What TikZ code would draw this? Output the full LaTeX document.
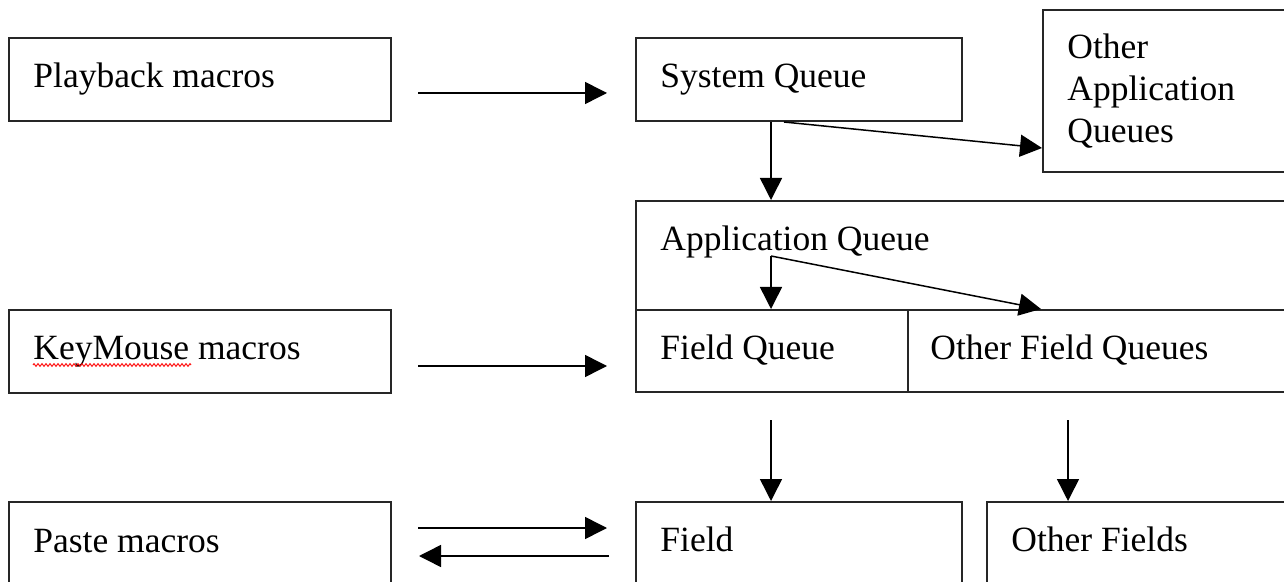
\documentclass[tikz,border=0pt]{standalone}
\usepackage{fontspec}
\setmainfont{Liberation Serif}
\usetikzlibrary{arrows.meta,fit,decorations.pathmorphing}
\begin{document}
\begin{tikzpicture}[x=0.5pt,y=-0.5pt,
  box/.style={draw=black!85, line width=1pt, inner sep=0pt},
  txt/.style={anchor=base west, inner sep=0pt, font=\fontsize{17.75}{20.9}\selectfont},
  arr/.style={line width=0.75pt, -{Triangle[length=11pt,width=11pt]}},
  squiggle/.style={red, line width=0.45pt, decorate,
    decoration={zigzag, amplitude=0.7pt, segment length=2pt}},
]
\useasboundingbox (0,0) rectangle (1284,582);
\clip (0,0) rectangle (1284,582);

% boxes (those on the right and bottom run off the page)
\node[box, fit={(9,38) (391,121)}]     (pb)  {};
\node[box, fit={(636,38) (962,121)}]   (sq)  {};
\node[box, fit={(1043,10) (1300,172)}] (oaq) {};
\node[box, fit={(636,201) (1300,392)}] (aq)  {};
\node[box, fit={(636,310) (908,392)}]  (fq)  {};
\node[box, fit={(908,310) (1300,392)}] (ofq) {};
\node[box, fit={(9,310) (391,393)}]    (km)  {};
\node[box, fit={(9,502) (391,600)}]    (pm)  {};
\node[box, fit={(636,502) (962,600)}]  (fd)  {};
\node[box, fit={(987,502) (1300,600)}] (of)  {};

% labels
\node[txt] (pbt)  at ([shift={(25,51)}]pb.north west)  {Playback macros};
\node[txt] (sqt)  at ([shift={(25,51)}]sq.north west)  {System Queue};
\node[txt, text width=110pt, align=left] (oaqt) at ([shift={(25,50)}]oaq.north west) {Other\\Application\\Queues};
\node[txt] (aqt)  at ([shift={(25,51)}]aq.north west)  {Application Queue};
\node[txt] (fqt)  at ([shift={(25,51)}]fq.north west)  {Field Queue};
\node[txt] (ofqt) at ([shift={(23,51)}]ofq.north west) {Other Field Queues};
\node[txt] (kmt)  at ([shift={(25,51)}]km.north west)  {KeyMouse macros};
\node[txt] (pmt)  at ([shift={(25,51)}]pm.north west)  {Paste macros};
\node[txt] (fdt)  at ([shift={(25,50)}]fd.north west)  {Field};
\node[txt] (oft)  at ([shift={(25,50)}]of.north west)  {Other Fields};

% spell-check underline
\draw[squiggle] ([shift={(0,5)}]kmt.base west) -- ([shift={(158,5)}]kmt.base west);

% macro sources into the queues
\draw[arr] ([shift={(26,13.5)}]pb.east) -- ([shift={(-28,13.5)}]sq.west);
\draw[arr] ([shift={(26,14.5)}]km.east) -- ([shift={(-28,15)}]fq.west);
\draw[arr] ([shift={(26,27)}]pm.north east) -- ([shift={(-28,27)}]fd.north west);
\draw[arr] ([shift={(-26,55)}]fd.north west) -- ([shift={(27,55)}]pm.north east);

% system queue dispatch
\draw[arr] ([shift={(136,0)}]sq.south west) -- ([shift={(136,0)}]aq.north west);
\draw[arr] ([shift={(149,0)}]sq.south west) -- ([shift={(0,-25)}]oaq.south west);

% application queue dispatch
\coordinate (split) at ([shift={(136,56)}]aq.north west);
\draw[arr] (split) -- ([shift={(136,0)}]fq.north west);
\draw[arr] (split) -- ([shift={(134,0)}]ofq.north west);

% field queues into fields
\draw[arr] ([shift={(136,27)}]fq.south west) -- ([shift={(136,0)}]fd.north west);
\draw[arr] ([shift={(161,27)}]ofq.south west) -- ([shift={(82,0)}]of.north west);
\end{tikzpicture}
\end{document}
